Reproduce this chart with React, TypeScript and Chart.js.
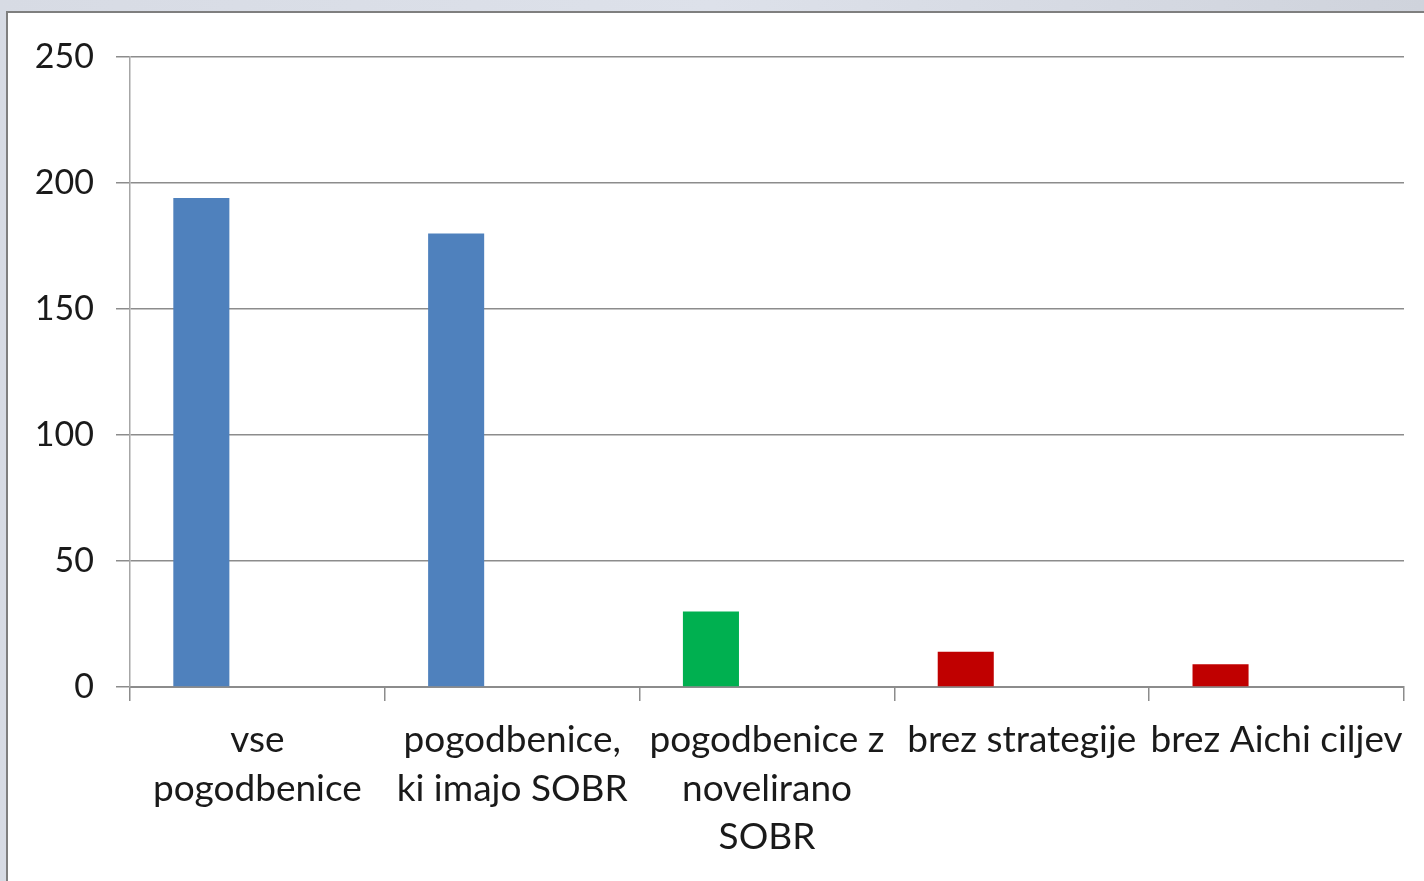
import React, { useEffect, useRef } from "react";
import { Chart, registerables } from "chart.js";

Chart.register(...registerables);

const categories: string[][] = [
  ["vse", "pogodbenice"],
  ["pogodbenice,", "ki imajo SOBR"],
  ["pogodbenice z", "novelirano", "SOBR"],
  ["brez strategije"],
  ["brez Aichi ciljev"],
];
const values: number[] = [194, 180, 30, 14, 9];
const barColors: string[] = ["#4F81BD", "#4F81BD", "#00B050", "#C00000", "#C00000"];
const emptySeries: (number | null)[] = [null, null, null, null, null];
const yTicks = { min: 0, max: 250, step: 50 };

const FONT = "Lato, 'Open Sans', sans-serif";

export default function App() {
  const ref = useRef<HTMLCanvasElement | null>(null);

  useEffect(() => {
    document.body.style.margin = "0";
    if (!ref.current) return;
    const chart = new Chart(ref.current, {
      type: "bar",
      data: {
        labels: categories,
        datasets: [
          { data: values, backgroundColor: barColors, borderWidth: 0, categoryPercentage: 0.66, barPercentage: 1 },
          { data: emptySeries, backgroundColor: "#4F81BD", categoryPercentage: 0.66, barPercentage: 1 },
          { data: emptySeries, backgroundColor: "#4F81BD", categoryPercentage: 0.66, barPercentage: 1 },
        ],
      },
      options: {
        animation: false,
        responsive: false,
        maintainAspectRatio: false,
        layout: { padding: { left: 0, right: 20, top: 57, bottom: 0 } },
        plugins: { legend: { display: false }, tooltip: { enabled: false } },
        scales: {
          x: {
            grid: {
              offset: true,
              drawOnChartArea: false,
              drawTicks: true,
              tickLength: 14,
              color: "#8c8c8c",
              lineWidth: 1.5,
            },
            border: { color: "#8c8c8c", width: 2 },
            ticks: {
              autoSkip: false,
              maxRotation: 0,
              minRotation: 0,
              padding: 15,
              color: "#1a1a1a",
              font: { family: FONT, size: 37, lineHeight: 1.31 },
            },
            afterFit: (s: any) => {
              s.height = 881 - 687;
            },
          },
          y: {
            min: yTicks.min,
            max: yTicks.max,
            grid: { color: "#8c8c8c", lineWidth: 1.5, tickLength: 14 },
            border: { color: "#a6a6a6", width: 1.5 },
            ticks: {
              stepSize: yTicks.step,
              padding: 22,
              color: "#1a1a1a",
              font: { family: FONT, size: 34 },
            },
            afterFit: (s: any) => {
              s.width = 130;
            },
          },
        },
      },
    });
    return () => chart.destroy();
  }, []);

  return (
    <div
      style={{
        position: "fixed",
        left: 0,
        top: 0,
        width: 1424,
        height: 881,
        background: "linear-gradient(90deg, #d7dbe4 0%, #dde1ea 50%, #cfd3dc 100%)",
        overflow: "hidden",
      }}
    >
      <div
        style={{
          position: "absolute",
          left: 6,
          top: 11,
          right: 0,
          bottom: 0,
          background: "#ffffff",
          borderTop: "2px solid #7f7f7f",
          borderLeft: "2px solid #7f7f7f",
        }}
      />
      <canvas
        ref={ref}
        width={1424}
        height={881}
        style={{ position: "absolute", left: 0, top: 0, width: 1424, height: 881 }}
      />
    </div>
  );
}
